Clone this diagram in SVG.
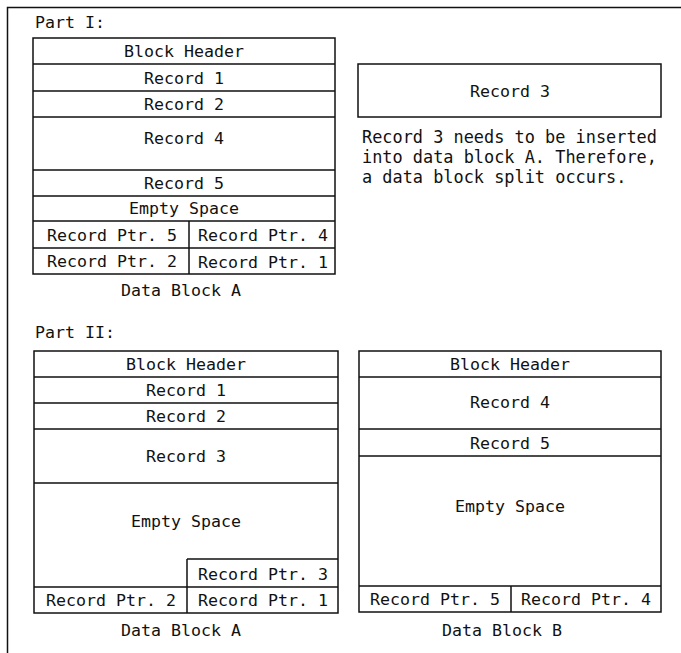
<svg xmlns="http://www.w3.org/2000/svg" width="681" height="653" viewBox="0 0 681 653">
<style>
.t{font-family:"DejaVu Sans Mono","Liberation Mono",monospace;font-size:16.6px;fill:#111}
.p{font-size:16.9px}
.c{text-anchor:middle}
.b{fill:none;stroke:#111;stroke-width:1.5}
</style>
<rect width="681" height="653" fill="#fff"/>
<path class="b" d="M7.5,653 V7.5 H681" stroke-width="2"/>
<g id="part1">
<text class="t" x="35" y="28">Part I:</text>
<g id="blockA1">
<rect class="b" x="33" y="38" width="302" height="236"/>
<path class="b" d="M33,64H335M33,91H335M33,117H335M33,170H335M33,196H335M33,221H335M33,248H335M189,221V274"/>
<text class="t c" x="184" y="57">Block Header</text>
<text class="t c" x="184" y="84">Record 1</text>
<text class="t c" x="184" y="110">Record 2</text>
<text class="t c" x="184" y="144">Record 4</text>
<text class="t c" x="184" y="189">Record 5</text>
<text class="t c" x="184" y="214">Empty Space</text>
<text class="t c" x="112" y="241">Record Ptr. 5</text>
<text class="t c" x="263" y="241">Record Ptr. 4</text>
<text class="t c" x="112" y="267">Record Ptr. 2</text>
<text class="t c" x="263" y="268">Record Ptr. 1</text>
<text class="t c" x="181" y="296">Data Block A</text>
</g>
<g id="record3">
<rect class="b" x="358" y="64" width="303" height="53"/>
<text class="t c" x="510" y="97">Record 3</text>
</g>
<g id="note">
<text class="t p" x="362" y="143">Record 3 needs to be inserted</text>
<text class="t p" x="362" y="163">into data block A. Therefore,</text>
<text class="t p" x="362" y="183">a data block split occurs.</text>
</g>
</g>
<g id="part2">
<text class="t" x="35" y="338">Part II:</text>
<g id="blockA2">
<rect class="b" x="34" y="351" width="304" height="262"/>
<path class="b" d="M34,377H338M34,403H338M34,429H338M34,483H338M187,559H338M34,587H338M187,559V613"/>
<text class="t c" x="186" y="370">Block Header</text>
<text class="t c" x="186" y="396">Record 1</text>
<text class="t c" x="186" y="422">Record 2</text>
<text class="t c" x="186" y="462">Record 3</text>
<text class="t c" x="186" y="527">Empty Space</text>
<text class="t c" x="263" y="580">Record Ptr. 3</text>
<text class="t c" x="111" y="606">Record Ptr. 2</text>
<text class="t c" x="263" y="606">Record Ptr. 1</text>
<text class="t c" x="181" y="636">Data Block A</text>
</g>
<g id="blockB">
<rect class="b" x="359" y="351" width="302" height="261"/>
<path class="b" d="M359,377H661M359,429H661M359,456H661M359,586H661M511,586V612"/>
<text class="t c" x="510" y="370">Block Header</text>
<text class="t c" x="510" y="408">Record 4</text>
<text class="t c" x="510" y="449">Record 5</text>
<text class="t c" x="510" y="512">Empty Space</text>
<text class="t c" x="435" y="605">Record Ptr. 5</text>
<text class="t c" x="586" y="605">Record Ptr. 4</text>
<text class="t c" x="502" y="636">Data Block B</text>
</g>
</g>
</svg>
